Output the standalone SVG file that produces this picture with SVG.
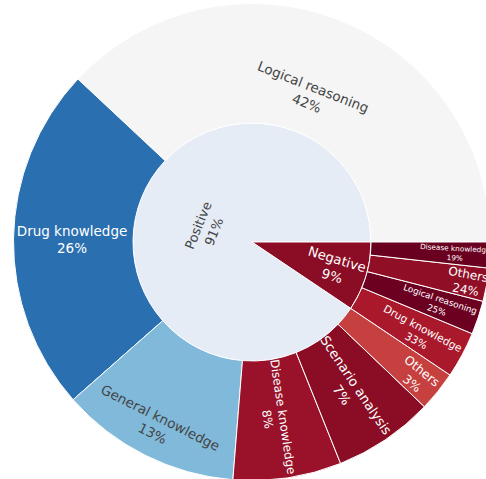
<svg xmlns="http://www.w3.org/2000/svg" width="486" height="479" viewBox="0 0 486 479">
<style>
  .seg { stroke: #ffffff; stroke-width: 1; stroke-linejoin: round; }
  text { font-family: "DejaVu Sans", Verdana, sans-serif; text-anchor: middle; }
  .dk { fill: #444444; }
  .lt { fill: #ffffff; }
</style>
<rect width="486" height="479" fill="#ffffff"/>
<g id="connectors"></g>

<g id="node-positive">
  <path class="seg" fill="#e5ecf6" d="M252,242 L371,242 A119,119 0 1 0 350.77,308.37 Z"/>
  <text class="dk" font-size="13" transform="translate(206,228.5) rotate(-68)"><tspan x="0" y="-3.77">Positive</tspan><tspan x="0" y="13.13">91%</tspan></text>
</g>
<g id="node-negative">
  <path class="seg" fill="#8b0c25" d="M252,242 L350.77,308.37 A119,119 0 0 0 371,242 Z"/>
  <text class="lt" font-size="13.3" transform="translate(334.6,267.5) rotate(16.95)"><tspan x="0" y="-3.86">Negative</tspan><tspan x="0" y="13.43">9%</tspan></text>
</g>

<g id="node-logical-reasoning">
  <path class="seg" fill="#f5f5f5" d="M490.5,242 A238.5,238.5 0 0 0 77.85,79.03 L165.11,160.69 A119,119 0 0 1 371,242 Z"/>
  <text class="dk" font-size="13.5" transform="translate(310,95) rotate(21.5)"><tspan x="0" y="-3.9">Logical reasoning</tspan><tspan x="0" y="13.6">42%</tspan></text>
</g>
<g id="node-drug-knowledge">
  <path class="seg" fill="#2a6fb0" d="M77.85,79.03 A238.5,238.5 0 0 0 73.10,399.72 L162.74,320.69 A119,119 0 0 1 165.11,160.69 Z"/>
  <text class="lt" font-size="13.5" transform="translate(72,239.8)"><tspan x="0" y="-3.9">Drug knowledge</tspan><tspan x="0" y="13.6">26%</tspan></text>
</g>
<g id="node-general-knowledge">
  <path class="seg" fill="#80b9d9" d="M73.10,399.72 A238.5,238.5 0 0 0 232.87,479.74 L242.46,360.62 A119,119 0 0 1 162.74,320.69 Z"/>
  <text class="dk" font-size="13.5" transform="translate(156.5,425.5) rotate(26.6)"><tspan x="0" y="-3.9">General knowledge</tspan><tspan x="0" y="13.6">13%</tspan></text>
</g>
<g id="node-disease-knowledge">
  <path class="seg" fill="#99122a" d="M232.87,479.74 A238.5,238.5 0 0 0 340.58,463.45 L296.20,352.49 A119,119 0 0 1 242.46,360.62 Z"/>
  <text class="lt" font-size="12" transform="translate(275.4,418) rotate(81.4)"><tspan x="0" y="-3.48">Disease knowledge</tspan><tspan x="0" y="12.12">8%</tspan></text>
</g>
<g id="node-scenario-analysis">
  <path class="seg" fill="#8a0d25" d="M340.58,463.45 A238.5,238.5 0 0 0 424.44,406.78 L338.04,324.22 A119,119 0 0 1 296.20,352.49 Z"/>
  <text class="lt" font-size="13.3" transform="translate(349,390) rotate(55.95)"><tspan x="0" y="-3.86">Scenario analysis</tspan><tspan x="0" y="13.43">7%</tspan></text>
</g>
<g id="node-others-positive">
  <path class="seg" fill="#c5403e" d="M424.44,406.78 A238.5,238.5 0 0 0 449.96,375.01 L350.77,308.37 A119,119 0 0 1 338.04,324.22 Z"/>
  <text class="lt" font-size="12.3" transform="translate(417,377) rotate(38.8)"><tspan x="0" y="-3.57">Others</tspan><tspan x="0" y="12.42">3%</tspan></text>
</g>

<g id="node-neg-drug-knowledge">
  <path class="seg" fill="#aa182c" d="M449.96,375.01 A238.5,238.5 0 0 0 472.18,333.66 L361.86,287.73 A119,119 0 0 1 350.77,308.37 Z"/>
  <text class="lt" font-size="10.7" transform="translate(419.5,334.5) rotate(28.25)"><tspan x="0" y="-3.1">Drug knowledge</tspan><tspan x="0" y="10.8">33%</tspan></text>
</g>
<g id="node-neg-logical-reasoning">
  <path class="seg" fill="#6b0021" d="M472.18,333.66 A238.5,238.5 0 0 0 483.01,301.31 L367.26,271.60 A119,119 0 0 1 361.86,287.73 Z"/>
  <text class="lt" font-size="8.8" transform="translate(438.5,304.5) rotate(18.5)"><tspan x="0" y="-2.55">Logical reasoning</tspan><tspan x="0" y="8.89">25%</tspan></text>
</g>
<g id="node-neg-others">
  <path class="seg" fill="#900f27" d="M483.01,301.31 A238.5,238.5 0 0 0 489.07,268.16 L370.29,255.05 A119,119 0 0 1 367.26,271.60 Z"/>
  <text class="lt" font-size="12" transform="translate(467,281.8) rotate(10.35)"><tspan x="0" y="-3.48">Others</tspan><tspan x="0" y="12.12">24%</tspan></text>
</g>
<g id="node-neg-disease-knowledge">
  <path class="seg" fill="#6a0020" d="M489.07,268.16 A238.5,238.5 0 0 0 490.5,242 L371,242 A119,119 0 0 1 370.29,255.05 Z"/>
  <text class="lt" font-size="7.3" transform="translate(455,253) rotate(3.15)"><tspan x="0" y="-2.12">Disease knowledge</tspan><tspan x="0" y="7.37">19%</tspan></text>
</g>
</svg>
